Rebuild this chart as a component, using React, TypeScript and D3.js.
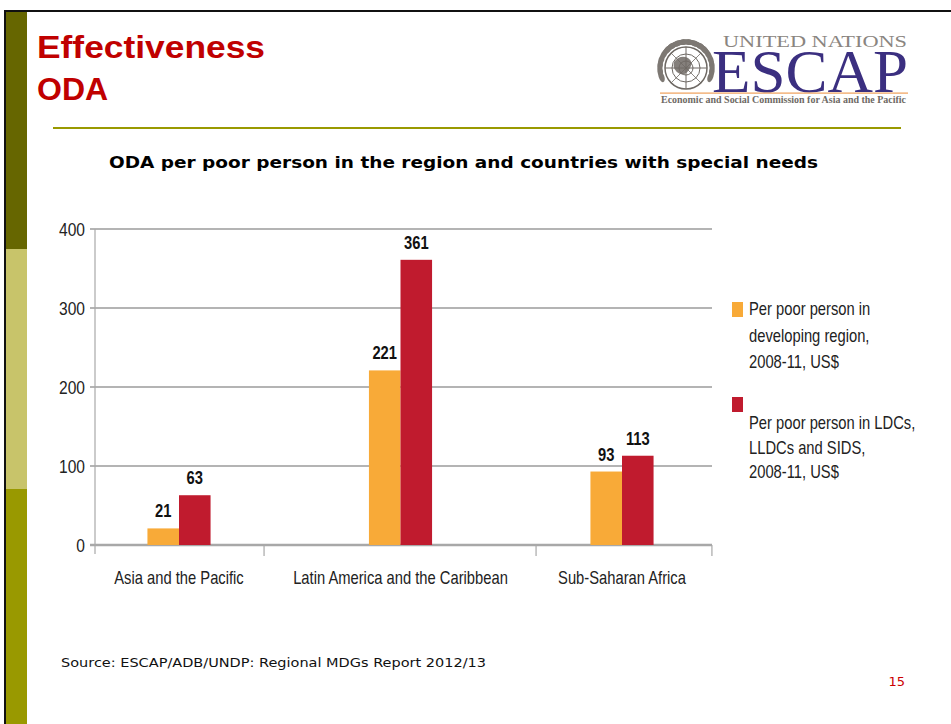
import React from "react";
import * as d3 from "d3";

const categories = ["Asia and the Pacific", "Latin America and the Caribbean", "Sub-Saharan Africa"];
const developingRegion = [21, 221, 93];
const ldcLldcSids = [63, 361, 113];
const yTicks = [0, 100, 200, 300, 400];
const seriesNames = [
  ["Per poor person in", "developing region,", "2008-11, US$"],
  ["Per poor person in LDCs,", "LLDCs and SIDS,", "2008-11, US$"],
];
// category separator positions, in category-index units
const separators = [-0.379, 0.384, 1.612, 2.406];

const ORANGE = "#f8aa38";
const RED = "#c01b2e";
const SANS = "'Liberation Sans', Arial, sans-serif";

type NProps = {
  x: number; y: number; size: number; anchor?: "start" | "middle" | "end";
  bold?: boolean; fill?: string; dy?: string; children: React.ReactNode;
};
function NText({ x, y, size, anchor = "start", bold = false, fill = "#222", dy, children }: NProps) {
  return (
    <g transform={`translate(${x},${y}) scale(0.82,1)`}>
      <text x={0} y={0} dy={dy} textAnchor={anchor} fill={fill} fontFamily={SANS}
        fontWeight={bold ? "bold" : "normal"} fontSize={size}>{children}</text>
    </g>
  );
}

export default function App() {
  const W = 951, H = 724;
  const x = d3.scaleLinear().domain([0, 2]).range([179, 622]);
  const y = d3.scaleLinear().domain([0, 400]).range([545, 229]);
  const barW = x(0.1425) - x(0);
  const gridX0 = 90, gridX1 = 712;

  // laurel leaves for emblem
  const cx = 686, cy = 68;
  const leaves = d3.range(0, 26).map((i) => {
    const side = i < 13 ? -1 : 1;
    const k = i % 13;
    const ang = (200 - k * 13) * (Math.PI / 180);
    const a = side < 0 ? ang : Math.PI - ang;
    return { a, x: cx + Math.cos(a) * 26, y: cy - Math.sin(a) * 26 };
  });

  return (
    <svg width={W} height={H} style={{ display: "block", position: "absolute", left: 0, top: 0 }}>
      <rect x={0} y={0} width={W} height={H} fill="#fff" />
      {/* frame */}
      <rect x={4} y={10} width={W - 4} height={2} fill="#111" />
      <rect x={4} y={10} width={2} height={H - 10} fill="#111" />
      <rect x={6} y={12} width={21} height={237} fill="#666600" />
      <rect x={6} y={249} width={21} height={240} fill="#c8c46a" />
      <rect x={6} y={489} width={21} height={H - 489} fill="#999900" />

      {/* slide title */}
      <text x={37} y={58} fill="#c00000" fontFamily={SANS} fontWeight="bold" fontSize={32} textLength={228} lengthAdjust="spacingAndGlyphs">Effectiveness</text>
      <text x={37} y={100} fill="#c00000" fontFamily={SANS} fontWeight="bold" fontSize={32}>ODA</text>
      <rect x={53} y={127} width={848} height={2} fill="#999900" />

      {/* logo */}
      <g>
        {leaves.map((l, i) => (
          <ellipse key={i} cx={l.x} cy={l.y} rx={5.5} ry={2.8} fill="#7d7873"
            transform={`rotate(${-(l.a * 180) / Math.PI + 90} ${l.x} ${l.y})`} />
        ))}
        <circle cx={cx} cy={cy} r={21} fill="#fff" stroke="#6e6964" strokeWidth={1.5} />
        <circle cx={cx} cy={cy} r={14} fill="none" stroke="#6e6964" strokeWidth={1} />
        <circle cx={cx} cy={cy} r={7} fill="none" stroke="#6e6964" strokeWidth={1} />
        <line x1={cx - 21} y1={cy} x2={cx + 21} y2={cy} stroke="#6e6964" strokeWidth={1} />
        <line x1={cx} y1={cy - 21} x2={cx} y2={cy + 21} stroke="#6e6964" strokeWidth={1} />
        <line x1={cx - 15} y1={cy - 15} x2={cx + 15} y2={cy + 15} stroke="#6e6964" strokeWidth={0.8} />
        <line x1={cx + 15} y1={cy - 15} x2={cx - 15} y2={cy + 15} stroke="#6e6964" strokeWidth={0.8} />
        <path d={`M${cx - 12},${cy - 6} q6,-8 14,-4 q6,4 2,10 q-4,8 -10,6 q-8,-4 -6,-12z`} fill="#6e6964" opacity={0.85} />
        <text x={723} y={47} fill="#8a8580" fontFamily="'Liberation Serif', 'Times New Roman', serif" fontSize={16} textLength={184} lengthAdjust="spacingAndGlyphs">UNITED NATIONS</text>
        <text x={712} y={92} fill="#3b2f80" fontFamily="'Liberation Serif', 'Times New Roman', serif" fontSize={62} textLength={196} lengthAdjust="spacingAndGlyphs">ESCAP</text>
        <rect x={660} y={92.5} width={248} height={1.2} fill="#f0a05a" />
        <text x={661} y={103} fill="#6e6964" fontFamily="'Liberation Serif', 'Times New Roman', serif" fontWeight="bold" fontSize={9.5} textLength={245} lengthAdjust="spacingAndGlyphs">Economic and Social Commission for Asia and the Pacific</text>
      </g>

      {/* chart title */}
      <text x={109} y={168} fill="#000" fontFamily="'DejaVu Sans', Verdana, sans-serif" fontWeight="bold" fontSize={16} textLength={709} lengthAdjust="spacingAndGlyphs">ODA per poor person in the region and countries with special needs</text>

      {/* gridlines and y axis */}
      {yTicks.map((t) => (
        <g key={t}>
          <line x1={gridX0} x2={gridX1} y1={y(t)} y2={y(t)} stroke={t === 0 ? "#a8a8a8" : "#b4b4b4"} strokeWidth={t === 0 ? 2.5 : 1.8} />
          <NText x={85} y={y(t)} dy="0.36em" anchor="end" size={19}>{t}</NText>
        </g>
      ))}
      <line x1={95} x2={95} y1={y(400)} y2={554} stroke="#a8a8a8" strokeWidth={1.2} />
      {separators.slice(1).map((s, i) => (
        <line key={i} x1={x(s)} x2={x(s)} y1={y(0)} y2={556} stroke="#a8a8a8" strokeWidth={1.2} />
      ))}

      {/* bars */}
      {categories.map((c, i) => (
        <g key={c}>
          <rect x={x(i) - barW} y={y(developingRegion[i])} width={barW} height={y(0) - y(developingRegion[i])} fill={ORANGE} />
          <rect x={x(i)} y={y(ldcLldcSids[i])} width={barW} height={y(0) - y(ldcLldcSids[i])} fill={RED} />
          <NText x={x(i) - barW / 2} y={y(developingRegion[i]) - 11} anchor="middle" bold fill="#111" size={18}>{developingRegion[i]}</NText>
          <NText x={x(i) + barW / 2} y={y(ldcLldcSids[i]) - 11} anchor="middle" bold fill="#111" size={18}>{ldcLldcSids[i]}</NText>
          <NText x={x(i)} y={584} anchor="middle" size={18}>{c}</NText>
        </g>
      ))}

      {/* legend */}
      {seriesNames.map((lines, si) => {
        const top = si === 0 ? 302 : 397;
        const base = si === 0 ? 315 : 429;
        const step = si === 0 ? 26.5 : 24.5;
        return (
          <g key={si}>
            <rect x={732} y={top} width={11} height={15} fill={si === 0 ? ORANGE : RED} />
            {lines.map((ln, li) => (
              <NText key={li} x={749} y={base + li * step} size={18}>{ln}</NText>
            ))}
          </g>
        );
      })}

      {/* source & page */}
      <text x={61} y={667} fill="#111" fontFamily="'DejaVu Sans', Tahoma, sans-serif" fontSize={12.5} textLength={425} lengthAdjust="spacingAndGlyphs">Source: ESCAP/ADB/UNDP: Regional MDGs Report 2012/13</text>
      <text x={905} y={686} textAnchor="end" fill="#cc0000" fontFamily="'DejaVu Sans', Tahoma, sans-serif" fontSize={13}>15</text>
    </svg>
  );
}
